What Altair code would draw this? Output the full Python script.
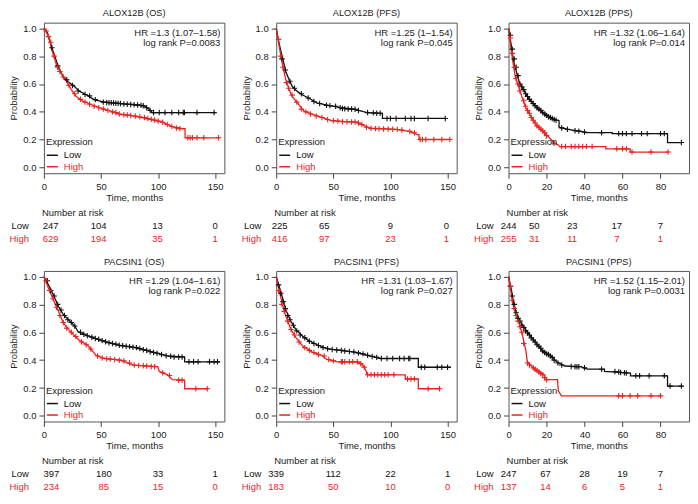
import altair as alt
import pandas as pd

FONT = "Liberation Sans"
RED = "#e8231f"
BLACK = "#111111"
TXT = "#222222"
W, H = 181, 151
FS = 9.5

TITLES = ["ALOX12B (OS)", "ALOX12B (PFS)", "ALOX12B (PPS)",
          "PACSIN1 (OS)", "PACSIN1 (PFS)", "PACSIN1 (PPS)"]
HR_TEXT = ["HR =1.3 (1.07\u20131.58)", "HR =1.25 (1\u20131.54)", "HR =1.32 (1.06\u20131.64)",
           "HR =1.29 (1.04\u20131.61)", "HR =1.31 (1.03\u20131.67)", "HR =1.52 (1.15\u20132.01)"]
P_TEXT = ["log rank P=0.0083", "log rank P=0.045", "log rank P=0.014",
          "log rank P=0.022", "log rank P=0.027", "log rank P=0.0031"]
X_MAX = [158, 158, 95, 158, 158, 95]
X_TICKS = [[0, 50, 100, 150], [0, 50, 100, 150], [0, 20, 40, 60, 80],
           [0, 50, 100, 150], [0, 50, 100, 150], [0, 20, 40, 60, 80]]
Y_TICKS = [0, 0.2, 0.4, 0.6, 0.8, 1.0]
RISK_T = [[6, 48, 99.5, 150], [3, 42, 100, 149], [0, 13.5, 33.5, 57, 80],
          [6.5, 52.5, 100, 150], [0, 50, 100, 150], [0, 19.5, 40, 60, 80]]
RISK_LOW = [[247, 104, 13, 0], [225, 65, 9, 0], [244, 50, 23, 17, 7],
            [397, 180, 33, 1], [339, 112, 22, 1], [247, 67, 28, 19, 7]]
RISK_HIGH = [[629, 194, 35, 1], [416, 97, 23, 1], [255, 31, 11, 7, 1],
             [234, 85, 15, 0], [183, 50, 10, 0], [137, 14, 6, 5, 1]]

# Kaplan-Meier curves (time in months, survival probability)
ALOX_OS_LOW = [(0, 1.0), (3, 0.97), (7, 0.86), (12.8, 0.72), (17, 0.65), (21.3, 0.616), (27, 0.58),
               (31.3, 0.547), (37, 0.523), (44, 0.488), (52.6, 0.47), (66.8, 0.46), (78, 0.453),
               (88, 0.442), (92, 0.42), (95, 0.395), (149, 0.395)]
ALOX_OS_HIGH = [(0, 1.0), (2, 0.98), (4.3, 0.93), (7.1, 0.84), (11.4, 0.73), (15.6, 0.67), (19.9, 0.616),
                (24.1, 0.558), (28.4, 0.51), (34, 0.477), (41.2, 0.453), (52.6, 0.419), (66.8, 0.384),
                (78, 0.372), (92.3, 0.349), (103.7, 0.326), (113.6, 0.29), (122, 0.279), (123.6, 0.279),
                (123.6, 0.214), (153.4, 0.214)]
ALOX_PFS_LOW = [(0, 1.0), (2.8, 0.88), (5.7, 0.78), (8.5, 0.686), (11.4, 0.628), (14.2, 0.58), (18.5, 0.547),
                (22.7, 0.523), (28.4, 0.5), (35.5, 0.465), (45.5, 0.447), (56.8, 0.43), (68.2, 0.419),
                (79.5, 0.395), (93, 0.39), (93, 0.353), (148, 0.353)]
ALOX_PFS_HIGH = [(0, 1.0), (2.8, 0.86), (5.7, 0.73), (8.5, 0.628), (11.4, 0.558), (14.2, 0.51), (18.5, 0.465),
                 (24.1, 0.407), (31.3, 0.384), (39.8, 0.36), (48.3, 0.337), (59.7, 0.33), (71, 0.326),
                 (76.7, 0.302), (82.4, 0.284), (105, 0.274), (116.5, 0.26), (123.6, 0.237), (125, 0.237),
                 (125, 0.202), (152, 0.202)]
ALOX_PPS_LOW = [(0, 1.0), (1.4, 0.88), (2.6, 0.767), (3.9, 0.70), (5.6, 0.616), (7.4, 0.57), (9.9, 0.51),
                (12.5, 0.465), (15.9, 0.419), (19.3, 0.384), (23.6, 0.349), (26.6, 0.337), (26.6, 0.29),
                (31.3, 0.274), (38.1, 0.26), (40.7, 0.251), (54.6, 0.251), (54.6, 0.244), (83.7, 0.244),
                (83.7, 0.18), (91.5, 0.18)]
ALOX_PPS_HIGH = [(0, 1.0), (1, 0.88), (2.2, 0.767), (3.6, 0.65), (5.3, 0.58), (7, 0.51), (9.1, 0.43),
                 (11.6, 0.372), (15, 0.302), (18.5, 0.256), (21.9, 0.209), (24.4, 0.174), (26.2, 0.163),
                 (27, 0.151), (51.2, 0.151), (51.2, 0.135), (64, 0.135), (64, 0.112), (84.3, 0.112)]
PAC_OS_LOW = [(0, 1.0), (4.3, 0.935), (8.5, 0.865), (12.8, 0.784), (17.1, 0.726), (22.8, 0.679), (27, 0.644),
              (29.9, 0.605), (38.5, 0.574), (47, 0.551), (55.6, 0.528), (67, 0.505), (78.3, 0.493),
              (89.7, 0.47), (101, 0.447), (109.7, 0.428), (123.2, 0.423), (123.2, 0.388), (153.8, 0.388)]
PAC_OS_HIGH = [(0, 1.0), (4.3, 0.91), (8.5, 0.83), (12.8, 0.749), (17.1, 0.667), (21.4, 0.621), (25.6, 0.586),
               (31.3, 0.54), (38.5, 0.505), (45.6, 0.435), (52.7, 0.412), (67, 0.4), (78.3, 0.365),
               (99.7, 0.353), (101, 0.319), (108.3, 0.295), (112.5, 0.26), (123.2, 0.256), (123.2, 0.195),
               (143.9, 0.195)]
PAC_PFS_LOW = [(0, 1.0), (2.8, 0.923), (5.7, 0.842), (8.5, 0.76), (12.8, 0.679), (17.1, 0.621), (22.8, 0.574),
               (28.5, 0.54), (37, 0.505), (45.6, 0.481), (57, 0.47), (68.4, 0.458), (79.8, 0.435),
               (91.2, 0.412), (124.4, 0.412), (124.4, 0.349), (153, 0.349)]
PAC_PFS_HIGH = [(0, 1.0), (2.8, 0.888), (5.7, 0.795), (8.5, 0.714), (12.8, 0.621), (17.1, 0.563), (22.8, 0.505),
                (31.3, 0.458), (39.9, 0.435), (44.2, 0.405), (54.1, 0.388), (71.2, 0.388), (75.5, 0.365),
                (78.3, 0.33), (79.8, 0.295), (113, 0.295), (113, 0.265), (124.4, 0.265), (124.4, 0.195),
                (142.5, 0.195)]
PAC_PPS_LOW = [(0, 1.0), (1.4, 0.912), (2.6, 0.819), (3.9, 0.749), (5.6, 0.69), (8.2, 0.633), (10.8, 0.586),
               (14.2, 0.528), (17.6, 0.47), (21.9, 0.435), (25.3, 0.388), (29.6, 0.358), (38.1, 0.353),
               (41.5, 0.335), (50.5, 0.335), (50.5, 0.319), (64.2, 0.307), (64.2, 0.288), (83.7, 0.288),
               (83.7, 0.214), (91.5, 0.214)]
PAC_PPS_HIGH = [(0, 1.0), (1, 0.912), (2.2, 0.807), (3.9, 0.726), (5.6, 0.667), (7.4, 0.574), (9.1, 0.47),
                (9.9, 0.388), (12.5, 0.353), (15.9, 0.319), (19.1, 0.288), (19.1, 0.26), (25.8, 0.26),
                (26.2, 0.179), (27.9, 0.144), (80, 0.144)]

# censoring marks (time, survival)
CENS_ALOX_OS_LOW = [(7, 0.86), (12, 0.73), (20, 0.63), (25, 0.59), (30, 0.55), (36, 0.525), (40, 0.515),
                    (45, 0.488), (52, 0.47), (55, 0.468), (57, 0.466), (59, 0.465), (61, 0.464), (63, 0.462),
                    (65, 0.461), (67, 0.46), (70, 0.457), (73, 0.455), (76, 0.453), (79, 0.452), (82, 0.45),
                    (85, 0.447), (87, 0.444), (90, 0.43), (93, 0.41), (96, 0.395), (101, 0.395), (106, 0.395),
                    (112, 0.395), (118, 0.395), (122, 0.395), (123, 0.395), (134, 0.395), (149, 0.395)]
CENS_ALOX_OS_HIGH = [(2, 0.98), (4, 0.94), (6, 0.9), (9, 0.8), (12, 0.72), (14, 0.69), (17, 0.65), (22, 0.59),
                     (27, 0.53), (32, 0.49), (36, 0.47), (40, 0.455), (44, 0.44), (48, 0.43), (52, 0.42),
                     (56, 0.41), (60, 0.4), (63, 0.395), (66, 0.385), (70, 0.38), (73, 0.377), (76, 0.374),
                     (80, 0.37), (84, 0.365), (88, 0.36), (91, 0.352), (94, 0.347), (97, 0.342), (100, 0.335),
                     (104, 0.326), (108, 0.31), (112, 0.295), (116, 0.285), (119, 0.28), (126, 0.214),
                     (128, 0.214), (130, 0.214), (134, 0.214), (140, 0.214), (153, 0.214)]
CENS_ALOX_PFS_LOW = [(5, 0.78), (8, 0.7), (12, 0.62), (16, 0.57), (22, 0.53), (28, 0.5), (33, 0.475), (38, 0.46),
                     (44, 0.447), (47, 0.445), (52, 0.44), (56, 0.43), (58, 0.425), (60, 0.422), (63, 0.42),
                     (66, 0.42), (69, 0.419), (72, 0.41), (80, 0.395), (85, 0.393), (88, 0.39), (91, 0.39),
                     (97, 0.353), (100, 0.353), (105, 0.353), (113, 0.353), (118, 0.353), (121, 0.353),
                     (133, 0.353), (148, 0.353)]
CENS_ALOX_PFS_HIGH = [(2, 0.92), (4, 0.8), (6, 0.72), (9, 0.61), (11, 0.57), (14, 0.52), (18, 0.47), (22, 0.42),
                      (26, 0.4), (30, 0.385), (35, 0.37), (40, 0.36), (45, 0.345), (50, 0.337), (54, 0.335),
                      (58, 0.33), (62, 0.33), (66, 0.328), (69, 0.327), (72, 0.32), (75, 0.31), (79, 0.29),
                      (83, 0.282), (87, 0.28), (90, 0.279), (94, 0.278), (98, 0.277), (102, 0.275),
                      (106, 0.274), (110, 0.27), (117, 0.26), (121, 0.25), (126, 0.202), (128, 0.202),
                      (131, 0.202), (138, 0.202), (145, 0.202), (152, 0.202)]
CENS_ALOX_PPS_LOW = [(1, 0.95), (2, 0.85), (3, 0.78), (4, 0.72), (5, 0.66), (6, 0.6), (7, 0.58), (8, 0.56),
                     (9, 0.53), (10, 0.51), (11, 0.49), (12, 0.475), (13, 0.46), (14, 0.445), (15, 0.43),
                     (16, 0.42), (17, 0.41), (18, 0.395), (19, 0.385), (20, 0.375), (21, 0.365), (22, 0.36),
                     (23, 0.352), (24, 0.345), (25, 0.34), (28, 0.285), (31, 0.275), (35, 0.265), (37, 0.262),
                     (40, 0.255), (49, 0.251), (58, 0.244), (60, 0.244), (62, 0.244), (65, 0.244), (70, 0.244),
                     (73, 0.244), (80, 0.244), (82, 0.244), (91, 0.18)]
CENS_ALOX_PPS_HIGH = [(1, 0.93), (2, 0.82), (3, 0.72), (4, 0.64), (5, 0.6), (6, 0.55), (8, 0.48), (9, 0.44),
                      (10, 0.41), (11, 0.39), (12, 0.36), (13, 0.34), (14, 0.32), (15, 0.3), (16, 0.29),
                      (17, 0.275), (18, 0.265), (19, 0.25), (20, 0.23), (24, 0.175), (28, 0.151), (30, 0.151),
                      (33, 0.151), (35, 0.151), (37, 0.151), (39, 0.151), (41, 0.151), (44, 0.151), (57, 0.135),
                      (60, 0.135), (62, 0.135), (65, 0.112), (75, 0.112), (84, 0.112)]
CENS_PAC_OS_LOW = [(3, 0.97), (6, 0.9), (9, 0.86), (12, 0.8), (15, 0.76), (18, 0.72), (21, 0.69), (24, 0.67),
                   (27, 0.645), (32, 0.6), (35, 0.585), (38, 0.575), (42, 0.565), (45, 0.555), (48, 0.55),
                   (51, 0.54), (54, 0.532), (57, 0.525), (60, 0.52), (63, 0.515), (66, 0.507), (69, 0.503),
                   (72, 0.5), (75, 0.497), (78, 0.493), (81, 0.49), (84, 0.483), (87, 0.475), (90, 0.47),
                   (93, 0.46), (96, 0.455), (99, 0.45), (103, 0.44), (107, 0.432), (111, 0.428), (114, 0.423),
                   (118, 0.423), (121, 0.423), (127, 0.388), (131, 0.388), (135, 0.388), (145, 0.388),
                   (149, 0.388), (152, 0.388)]
CENS_PAC_OS_HIGH = [(2, 0.97), (5, 0.9), (8, 0.84), (11, 0.78), (14, 0.72), (17, 0.67), (20, 0.63), (24, 0.6),
                    (28, 0.57), (33, 0.53), (37, 0.51), (41, 0.48), (47, 0.43), (51, 0.415), (55, 0.41),
                    (58, 0.408), (62, 0.405), (66, 0.4), (70, 0.395), (75, 0.38), (79, 0.365), (83, 0.362),
                    (87, 0.36), (90, 0.358), (94, 0.355), (97, 0.353), (104, 0.31), (110, 0.29), (118, 0.256),
                    (121, 0.256), (133, 0.195), (143, 0.195)]
CENS_PAC_PFS_LOW = [(2, 0.94), (4, 0.88), (6, 0.82), (8, 0.77), (10, 0.72), (12, 0.69), (15, 0.65), (18, 0.61),
                    (21, 0.58), (25, 0.56), (29, 0.535), (33, 0.52), (37, 0.505), (41, 0.49), (45, 0.482),
                    (49, 0.477), (53, 0.473), (57, 0.47), (60, 0.466), (64, 0.462), (68, 0.458), (72, 0.452),
                    (76, 0.445), (80, 0.435), (84, 0.427), (88, 0.42), (92, 0.412), (97, 0.412), (102, 0.412),
                    (108, 0.412), (112, 0.412), (116, 0.412), (117, 0.412), (127, 0.349), (130, 0.349),
                    (141, 0.349), (145, 0.349), (150, 0.349)]
CENS_PAC_PFS_HIGH = [(2, 0.9), (5, 0.8), (7, 0.75), (10, 0.68), (13, 0.62), (16, 0.58), (20, 0.53), (25, 0.49),
                     (29, 0.47), (33, 0.455), (37, 0.44), (42, 0.43), (46, 0.405), (50, 0.395), (57, 0.388),
                     (58, 0.388), (60, 0.388), (64, 0.388), (67, 0.388), (71, 0.388), (74, 0.375), (77, 0.35),
                     (80, 0.295), (83, 0.295), (86, 0.295), (89, 0.295), (92, 0.295), (95, 0.295), (98, 0.295),
                     (103, 0.295), (115, 0.265), (118, 0.265), (121, 0.265), (133, 0.195), (143, 0.195)]
CENS_PAC_PPS_LOW = [(1, 0.93), (2, 0.86), (3, 0.8), (4, 0.74), (5, 0.7), (6, 0.68), (7, 0.65), (8, 0.635),
                    (9, 0.61), (10, 0.595), (11, 0.58), (12, 0.56), (13, 0.545), (14, 0.53), (15, 0.51),
                    (16, 0.5), (17, 0.485), (18, 0.465), (19, 0.455), (20, 0.445), (21, 0.44), (22, 0.43),
                    (23, 0.42), (24, 0.4), (26, 0.38), (28, 0.365), (33, 0.355), (35, 0.353), (36, 0.353),
                    (37, 0.353), (40, 0.345), (49, 0.335), (56, 0.319), (58, 0.315), (59, 0.312), (61, 0.31),
                    (62, 0.308), (67, 0.288), (69, 0.288), (74, 0.288), (82, 0.288), (85, 0.214), (91, 0.214)]
CENS_PAC_PPS_HIGH = [(1, 0.93), (2, 0.83), (3, 0.77), (4, 0.72), (5, 0.68), (6, 0.64), (7, 0.6), (8, 0.52),
                     (10, 0.38), (11, 0.365), (13, 0.345), (14, 0.335), (15, 0.325), (16, 0.315), (17, 0.305),
                     (18, 0.295), (19, 0.275), (20, 0.26), (58, 0.144), (60, 0.144), (64, 0.144), (68, 0.144),
                     (75, 0.144), (80, 0.144)]

CURVES = [(ALOX_OS_LOW, ALOX_OS_HIGH), (ALOX_PFS_LOW, ALOX_PFS_HIGH), (ALOX_PPS_LOW, ALOX_PPS_HIGH),
          (PAC_OS_LOW, PAC_OS_HIGH), (PAC_PFS_LOW, PAC_PFS_HIGH), (PAC_PPS_LOW, PAC_PPS_HIGH)]
CENSORS = [(CENS_ALOX_OS_LOW, CENS_ALOX_OS_HIGH), (CENS_ALOX_PFS_LOW, CENS_ALOX_PFS_HIGH),
           (CENS_ALOX_PPS_LOW, CENS_ALOX_PPS_HIGH), (CENS_PAC_OS_LOW, CENS_PAC_OS_HIGH),
           (CENS_PAC_PFS_LOW, CENS_PAC_PFS_HIGH), (CENS_PAC_PPS_LOW, CENS_PAC_PPS_HIGH)]

GROUPS = ["Low", "High"]
PLUS = "M0,-1L0,1M-1,0L1,0"


def to_frame(pairs_by_group):
    rows = []
    for g, pts in zip(GROUPS, pairs_by_group):
        for k, (t, s) in enumerate(pts):
            rows.append({"t": t, "s": s, "g": g, "k": k})
    return pd.DataFrame(rows)


def panel(i):
    xs = alt.Scale(domain=[0, X_MAX[i]], nice=False, zero=False)
    ys = alt.Scale(domain=[-0.04, 1.04], nice=False, zero=False)
    cs = alt.Scale(domain=GROUPS, range=[BLACK, RED])
    xax = alt.Axis(values=X_TICKS[i], tickCount=len(X_TICKS[i]), title="Time, months",
                   labelFlush=False, labelOverlap=False)
    yax = alt.Axis(values=Y_TICKS, tickCount=len(Y_TICKS), format=".1f", title="Probability",
                   labelFlush=False, labelOverlap=False)
    leg = alt.Legend(title="Expression",
                     labelColor={"expr": "datum.value === 'High' ? '%s' : '%s'" % (RED, BLACK)})

    lines = alt.Chart(to_frame(CURVES[i])).mark_line(strokeWidth=1.3).encode(
        x=alt.X("t:Q", scale=xs, axis=xax),
        y=alt.Y("s:Q", scale=ys, axis=yax),
        color=alt.Color("g:N", scale=cs, legend=leg),
        order=alt.Order("k:Q"),
    )
    cens = alt.Chart(to_frame(CENSORS[i])).mark_point(
        shape=PLUS, filled=False, size=30, strokeWidth=1.1, opacity=1
    ).encode(
        x="t:Q", y="s:Q",
        color=alt.Color("g:N", scale=cs, legend=None),
    )
    info = pd.DataFrame({"hr": [HR_TEXT[i]], "p": [P_TEXT[i]]})
    hr = alt.Chart(info).mark_text(align="right", baseline="middle", fontSize=FS, color=TXT).encode(
        x=alt.value(W - 4), y=alt.value(10), text="hr:N")
    pv = alt.Chart(info).mark_text(align="right", baseline="middle", fontSize=FS, color=TXT).encode(
        x=alt.value(W - 4), y=alt.value(20), text="p:N")

    head = alt.Chart(info).mark_text(align="left", baseline="middle", fontSize=FS, color=TXT).encode(
        x=alt.value(-2), y=alt.value(H + 40), text=alt.value("Number at risk"))
    layers = [lines, cens, hr, pv, head]
    for g, vals, dy, colr in (("Low", RISK_LOW[i], 53, BLACK), ("High", RISK_HIGH[i], 66, RED)):
        df = pd.DataFrame({"t": RISK_T[i], "n": vals})
        layers.append(alt.Chart(df).mark_text(align="center", baseline="middle", fontSize=FS, color=colr).encode(
            x="t:Q", y=alt.value(H + dy), text="n:Q"))
        layers.append(alt.Chart(info).mark_text(align="right", baseline="middle", fontSize=FS, color=colr).encode(
            x=alt.value(-15), y=alt.value(H + dy), text=alt.value(g)))
    return alt.layer(*layers).properties(
        width=W, height=H,
        title=alt.TitleParams(TITLES[i], fontSize=9.2, fontWeight="normal", font=FONT, color=TXT,
                              offset=4, anchor="middle"),
    )


chart = alt.concat(*[panel(i) for i in range(6)], columns=3,
                   spacing={"row": 98, "column": 52}, bounds="flush").resolve_scale(
    x="independent", y="independent", color="independent"
).resolve_legend(color="independent").properties(padding=0).configure_view(
    stroke="#555555", strokeWidth=1
).configure_axis(
    grid=False, domain=False, tickColor="#444444", tickSize=5, labelPadding=3,
    labelFont=FONT, titleFont=FONT, labelFontSize=FS, titleFontSize=FS, titleFontWeight="normal",
    labelColor=TXT, titleColor=TXT,
).configure_axisX(titlePadding=2).configure_axisY(titlePadding=4).configure_legend(
    orient="bottom-left", offset=2, padding=0, symbolType="stroke", symbolSize=121,
    symbolStrokeWidth=1.5, labelFont=FONT, titleFont=FONT, labelFontSize=FS, titleFontSize=FS,
    titleFontWeight="normal", titleColor=TXT, rowPadding=0.5, titlePadding=2, labelOffset=5,
).configure_text(font=FONT)

chart.save("out.html", embed_options={"renderer": "svg", "actions": False})
